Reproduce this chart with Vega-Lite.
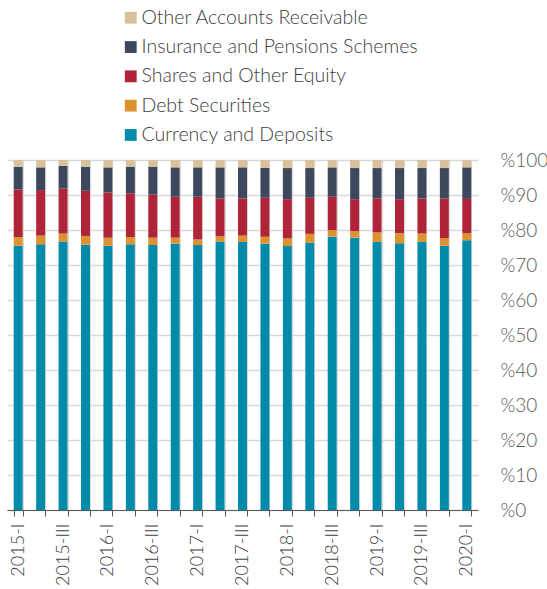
{
  "$schema": "https://vega.github.io/schema/vega-lite/v6.json",
  "autosize": {"type": "none"},
  "width": 471,
  "height": 350,
  "padding": {"left": 7, "top": 160, "right": 69, "bottom": 79},
  "background": "white",
  "config": {
    "font": "Lato",
    "view": {"stroke": null},
    "axis": {"labelFont": "Lato", "labelColor": "#595959", "labelFontWeight": 300},
    "legend": {"labelFont": "Lato", "labelFontWeight": 300}
  },
  "data": {
    "values": [
      {"q": "2015-I", "series": "Currency and Deposits", "v": 75.5},
      {"q": "2015-I", "series": "Debt Securities", "v": 2.5},
      {"q": "2015-I", "series": "Shares and Other Equity", "v": 13.6},
      {"q": "2015-I", "series": "Insurance and Pensions Schemes", "v": 6.5},
      {"q": "2015-I", "series": "Other Accounts Receivable", "v": 1.9},
      {"q": "2015-II", "series": "Currency and Deposits", "v": 75.9},
      {"q": "2015-II", "series": "Debt Securities", "v": 2.5},
      {"q": "2015-II", "series": "Shares and Other Equity", "v": 13.0},
      {"q": "2015-II", "series": "Insurance and Pensions Schemes", "v": 6.5},
      {"q": "2015-II", "series": "Other Accounts Receivable", "v": 2.1},
      {"q": "2015-III", "series": "Currency and Deposits", "v": 76.7},
      {"q": "2015-III", "series": "Debt Securities", "v": 2.3},
      {"q": "2015-III", "series": "Shares and Other Equity", "v": 12.8},
      {"q": "2015-III", "series": "Insurance and Pensions Schemes", "v": 6.5},
      {"q": "2015-III", "series": "Other Accounts Receivable", "v": 1.7},
      {"q": "2015-IV", "series": "Currency and Deposits", "v": 75.8},
      {"q": "2015-IV", "series": "Debt Securities", "v": 2.5},
      {"q": "2015-IV", "series": "Shares and Other Equity", "v": 12.9},
      {"q": "2015-IV", "series": "Insurance and Pensions Schemes", "v": 6.9},
      {"q": "2015-IV", "series": "Other Accounts Receivable", "v": 1.9},
      {"q": "2016-I", "series": "Currency and Deposits", "v": 75.5},
      {"q": "2016-I", "series": "Debt Securities", "v": 2.3},
      {"q": "2016-I", "series": "Shares and Other Equity", "v": 12.9},
      {"q": "2016-I", "series": "Insurance and Pensions Schemes", "v": 7.2},
      {"q": "2016-I", "series": "Other Accounts Receivable", "v": 2.1},
      {"q": "2016-II", "series": "Currency and Deposits", "v": 75.9},
      {"q": "2016-II", "series": "Debt Securities", "v": 2.1},
      {"q": "2016-II", "series": "Shares and Other Equity", "v": 12.5},
      {"q": "2016-II", "series": "Insurance and Pensions Schemes", "v": 7.6},
      {"q": "2016-II", "series": "Other Accounts Receivable", "v": 1.9},
      {"q": "2016-III", "series": "Currency and Deposits", "v": 75.7},
      {"q": "2016-III", "series": "Debt Securities", "v": 2.1},
      {"q": "2016-III", "series": "Shares and Other Equity", "v": 12.3},
      {"q": "2016-III", "series": "Insurance and Pensions Schemes", "v": 8.0},
      {"q": "2016-III", "series": "Other Accounts Receivable", "v": 1.9},
      {"q": "2016-IV", "series": "Currency and Deposits", "v": 76.1},
      {"q": "2016-IV", "series": "Debt Securities", "v": 1.7},
      {"q": "2016-IV", "series": "Shares and Other Equity", "v": 11.7},
      {"q": "2016-IV", "series": "Insurance and Pensions Schemes", "v": 8.4},
      {"q": "2016-IV", "series": "Other Accounts Receivable", "v": 2.1},
      {"q": "2017-I", "series": "Currency and Deposits", "v": 75.7},
      {"q": "2017-I", "series": "Debt Securities", "v": 1.6},
      {"q": "2017-I", "series": "Shares and Other Equity", "v": 12.2},
      {"q": "2017-I", "series": "Insurance and Pensions Schemes", "v": 8.4},
      {"q": "2017-I", "series": "Other Accounts Receivable", "v": 2.1},
      {"q": "2017-II", "series": "Currency and Deposits", "v": 76.7},
      {"q": "2017-II", "series": "Debt Securities", "v": 1.5},
      {"q": "2017-II", "series": "Shares and Other Equity", "v": 10.8},
      {"q": "2017-II", "series": "Insurance and Pensions Schemes", "v": 8.9},
      {"q": "2017-II", "series": "Other Accounts Receivable", "v": 2.1},
      {"q": "2017-III", "series": "Currency and Deposits", "v": 76.6},
      {"q": "2017-III", "series": "Debt Securities", "v": 1.8},
      {"q": "2017-III", "series": "Shares and Other Equity", "v": 10.6},
      {"q": "2017-III", "series": "Insurance and Pensions Schemes", "v": 8.9},
      {"q": "2017-III", "series": "Other Accounts Receivable", "v": 2.1},
      {"q": "2017-IV", "series": "Currency and Deposits", "v": 76.1},
      {"q": "2017-IV", "series": "Debt Securities", "v": 2.0},
      {"q": "2017-IV", "series": "Shares and Other Equity", "v": 11.1},
      {"q": "2017-IV", "series": "Insurance and Pensions Schemes", "v": 8.5},
      {"q": "2017-IV", "series": "Other Accounts Receivable", "v": 2.3},
      {"q": "2018-I", "series": "Currency and Deposits", "v": 75.4},
      {"q": "2018-I", "series": "Debt Securities", "v": 2.2},
      {"q": "2018-I", "series": "Shares and Other Equity", "v": 11.2},
      {"q": "2018-I", "series": "Insurance and Pensions Schemes", "v": 8.9},
      {"q": "2018-I", "series": "Other Accounts Receivable", "v": 2.3},
      {"q": "2018-II", "series": "Currency and Deposits", "v": 76.4},
      {"q": "2018-II", "series": "Debt Securities", "v": 2.5},
      {"q": "2018-II", "series": "Shares and Other Equity", "v": 10.3},
      {"q": "2018-II", "series": "Insurance and Pensions Schemes", "v": 8.5},
      {"q": "2018-II", "series": "Other Accounts Receivable", "v": 2.3},
      {"q": "2018-III", "series": "Currency and Deposits", "v": 78.1},
      {"q": "2018-III", "series": "Debt Securities", "v": 1.9},
      {"q": "2018-III", "series": "Shares and Other Equity", "v": 9.5},
      {"q": "2018-III", "series": "Insurance and Pensions Schemes", "v": 8.4},
      {"q": "2018-III", "series": "Other Accounts Receivable", "v": 2.1},
      {"q": "2018-IV", "series": "Currency and Deposits", "v": 77.8},
      {"q": "2018-IV", "series": "Debt Securities", "v": 1.9},
      {"q": "2018-IV", "series": "Shares and Other Equity", "v": 9.1},
      {"q": "2018-IV", "series": "Insurance and Pensions Schemes", "v": 8.9},
      {"q": "2018-IV", "series": "Other Accounts Receivable", "v": 2.3},
      {"q": "2019-I", "series": "Currency and Deposits", "v": 76.6},
      {"q": "2019-I", "series": "Debt Securities", "v": 2.7},
      {"q": "2019-I", "series": "Shares and Other Equity", "v": 9.7},
      {"q": "2019-I", "series": "Insurance and Pensions Schemes", "v": 8.7},
      {"q": "2019-I", "series": "Other Accounts Receivable", "v": 2.3},
      {"q": "2019-II", "series": "Currency and Deposits", "v": 76.2},
      {"q": "2019-II", "series": "Debt Securities", "v": 2.9},
      {"q": "2019-II", "series": "Shares and Other Equity", "v": 9.7},
      {"q": "2019-II", "series": "Insurance and Pensions Schemes", "v": 8.9},
      {"q": "2019-II", "series": "Other Accounts Receivable", "v": 2.3},
      {"q": "2019-III", "series": "Currency and Deposits", "v": 76.6},
      {"q": "2019-III", "series": "Debt Securities", "v": 2.4},
      {"q": "2019-III", "series": "Shares and Other Equity", "v": 10.0},
      {"q": "2019-III", "series": "Insurance and Pensions Schemes", "v": 8.7},
      {"q": "2019-III", "series": "Other Accounts Receivable", "v": 2.3},
      {"q": "2019-IV", "series": "Currency and Deposits", "v": 75.5},
      {"q": "2019-IV", "series": "Debt Securities", "v": 2.2},
      {"q": "2019-IV", "series": "Shares and Other Equity", "v": 11.3},
      {"q": "2019-IV", "series": "Insurance and Pensions Schemes", "v": 8.7},
      {"q": "2019-IV", "series": "Other Accounts Receivable", "v": 2.3},
      {"q": "2020-I", "series": "Currency and Deposits", "v": 77.0},
      {"q": "2020-I", "series": "Debt Securities", "v": 2.0},
      {"q": "2020-I", "series": "Shares and Other Equity", "v": 9.8},
      {"q": "2020-I", "series": "Insurance and Pensions Schemes", "v": 9.0},
      {"q": "2020-I", "series": "Other Accounts Receivable", "v": 2.1}
    ]
  },
  "transform": [
    {"calculate": "indexof(['Currency and Deposits', 'Debt Securities', 'Shares and Other Equity', 'Insurance and Pensions Schemes', 'Other Accounts Receivable'], datum.series)", "as": "stackRank"}
  ],
  "mark": {"type": "bar"},
  "encoding": {
    "x": {
      "field": "q",
      "type": "ordinal",
      "sort": null,
      "scale": {"paddingInner": 0.6, "paddingOuter": 0.3},
      "axis": {
        "title": null,
        "labelAngle": -90,
        "labelFontSize": 18,
        "labelColor": "#404040",
        "labelPadding": 7,
        "labelExpr": "test(/-(I|III)$/, datum.value) ? datum.value : ''",
        "tickBand": "extent",
        "tickSize": 6,
        "tickColor": "#595959",
        "domainColor": "#595959",
        "grid": true,
        "gridColor": "#d9d9d9",
        "gridWidth": 1.2
      }
    },
    "y": {
      "field": "v",
      "type": "quantitative",
      "stack": "normalize",
      "scale": {"domain": [0, 1], "nice": false},
      "axis": {
        "title": null,
        "orient": "right",
        "values": [0, 0.1, 0.2, 0.3, 0.4, 0.5, 0.6, 0.7, 0.8, 0.9, 1],
        "labelExpr": "'%' + round(datum.value * 100)",
        "labelFontSize": 19,
        "labelColor": "#595959",
        "labelPadding": 22,
        "ticks": false,
        "domain": false,
        "grid": true,
        "gridColor": "#d9d9d9",
        "gridWidth": 1.3
      }
    },
    "order": {"field": "stackRank", "type": "quantitative", "sort": "ascending"},
    "color": {
      "field": "series",
      "type": "nominal",
      "scale": {
        "domain": ["Other Accounts Receivable", "Insurance and Pensions Schemes", "Shares and Other Equity", "Debt Securities", "Currency and Deposits"],
        "range": ["#d8c19b", "#3d485c", "#af2438", "#dd9230", "#008bab"]
      },
      "legend": {
        "title": null,
        "orient": "none",
        "legendX": 114,
        "legendY": -152,
        "padding": 0,
        "symbolType": "square",
        "symbolSize": 140,
        "symbolStrokeWidth": 0,
        "labelFontSize": 19.5,
        "labelLimit": 400,
        "labelColor": "#404040",
        "labelOffset": 1,
        "rowPadding": 8.3
      }
    }
  }
}
